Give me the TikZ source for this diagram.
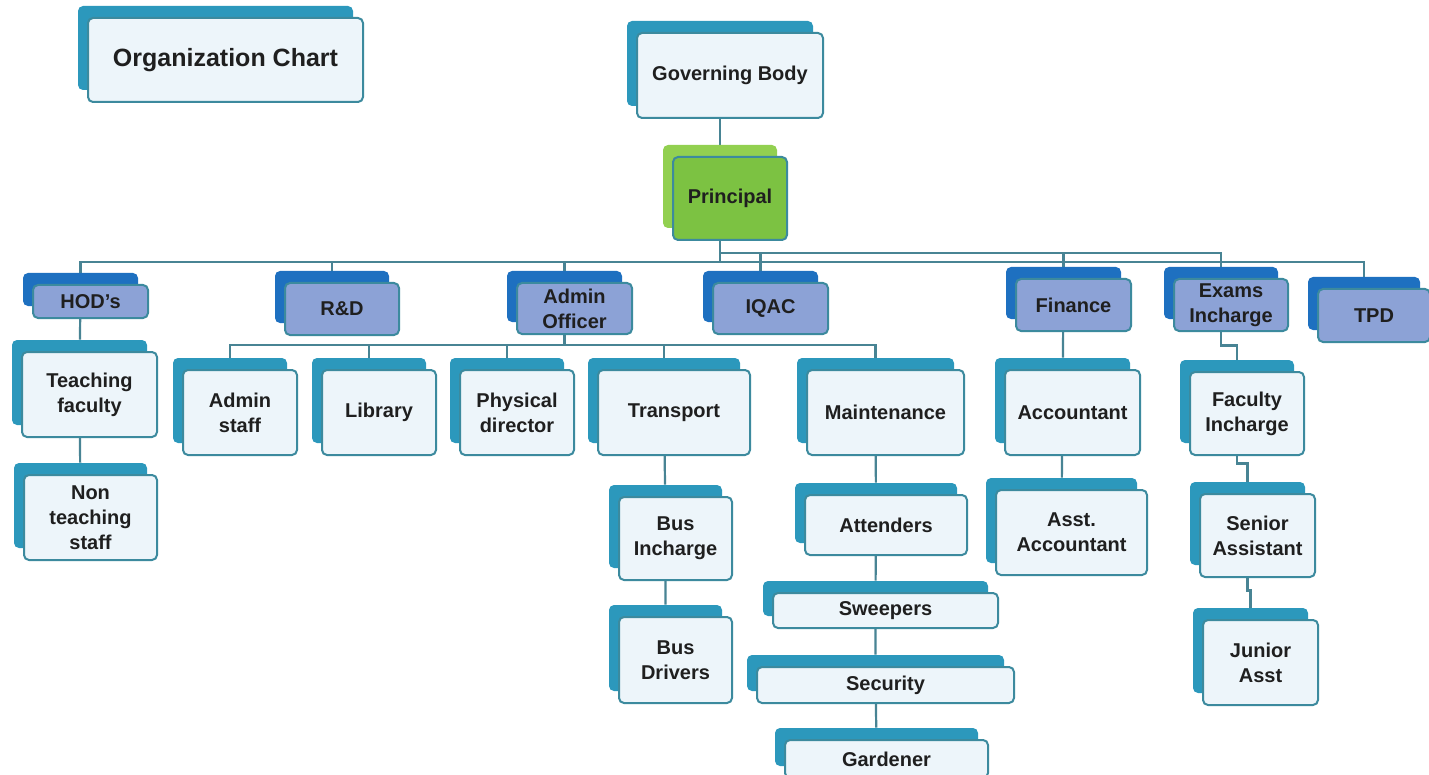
\documentclass[tikz,border=0pt]{standalone}
\usepackage{fontspec}
\setmainfont{Liberation Sans}
\usetikzlibrary{positioning,backgrounds}

\definecolor{backteal}{RGB}{44,152,188}
\definecolor{frontfill}{RGB}{237,245,250}
\definecolor{edgeteal}{RGB}{60,138,158}
\definecolor{deptback}{RGB}{30,112,192}
\definecolor{deptfill}{RGB}{140,162,214}
\definecolor{headback}{RGB}{146,208,80}
\definecolor{headfill}{RGB}{124,194,66}
\definecolor{linkcol}{RGB}{72,132,148}

\tikzset{
  box/.style={rectangle,rounded corners=2.5pt,inner sep=0pt,align=center},
  back-plain/.style={box,fill=backteal},
  front-plain/.style={box,draw=edgeteal,line width=1pt,fill=frontfill},
  back-dept/.style={box,fill=deptback},
  front-dept/.style={box,draw=edgeteal,line width=1pt,fill=deptfill},
  back-head/.style={box,fill=headback},
  front-head/.style={box,draw=edgeteal,line width=1pt,fill=headfill},
  link/.style={draw=linkcol,line width=1.1pt}
}

% back box (name-b) sits up and left of the front box (name)
\newcommand{\chartbox}[6][plain]{%
  \node[back-#1,minimum width=#4*0.5pt,minimum height=#5*0.5pt] (#2-b) at ([shift={(-10,-12)}]#3) {};
  \node[front-#1,minimum width=#4*0.5pt,minimum height=#5*0.5pt] (#2) at (#3) {#6};}

\begin{document}
\begin{tikzpicture}[x=0.5pt,y=-0.5pt,font=\bfseries\fontsize{10}{12.5}\selectfont,text=black!88]
  \useasboundingbox (0,0) rectangle (1429,775);
  \begin{pgfonlayer}{background}
    \fill[white] (0,0) rectangle (1429,775);
  \end{pgfonlayer}

  \chartbox{og}{225.5,60}{275}{84}{\fontsize{12.5}{15}\selectfont Organization Chart}
  \chartbox{gb}{730,75.5}{186}{85}{Governing Body}
  \chartbox[head]{pr}{730,198.5}{114}{83}{Principal}

  % departments
  \chartbox[dept]{hod}{90.5,301.5}{115}{33}{HOD's}
  \chartbox[dept]{rd}{342,309}{114}{52}{R\&D}
  \chartbox[dept]{adm}{574.5,308.5}{115}{51}{Admin\\Officer}
  \chartbox[dept]{iq}{770.5,308.5}{115}{51}{IQAC}
  \chartbox[dept]{fin}{1073.5,305}{115}{52}{Finance}
  \chartbox[dept]{ex}{1231,305}{114}{52}{Exams\\Incharge}
  \chartbox[dept]{tpd}{1374,315.5}{112}{53}{TPD}

  % staff
  \chartbox{tf}{89.5,394.5}{135}{85}{Teaching\\faculty}
  \chartbox{nt}{90.5,517.5}{133}{85}{Non\\teaching\\staff}
  \chartbox{as}{240,412.5}{114}{85}{Admin\\staff}
  \chartbox{lib}{379,412.5}{114}{85}{Library}
  \chartbox{pd}{517,412.5}{114}{85}{Physical\\director}
  \chartbox{tr}{674,412.5}{152}{85}{Transport}
  \chartbox{mt}{885.5,412.5}{157}{85}{Maintenance}
  \chartbox{acc}{1072.5,412.5}{135}{85}{Accountant}
  \chartbox{fi}{1247,413.5}{114}{83}{Faculty\\Incharge}
  \chartbox{bi}{675.5,538.5}{113}{83}{Bus\\Incharge}
  \chartbox{bd}{675.5,660}{113}{86}{Bus\\Drivers}
  \chartbox{att}{886,525}{162}{60}{Attenders}
  \chartbox{sw}{885.5,610.5}{225}{35}{Sweepers}
  \chartbox{sec}{885.5,685}{257}{36}{Security}
  \chartbox{gd}{886.5,759}{203}{38}{Gardener}
  \chartbox{aa}{1071.5,532.5}{151}{85}{Asst.\\Accountant}
  \chartbox{sa}{1257.5,535.5}{115}{83}{Senior\\Assistant}
  \chartbox{ja}{1260.5,662.5}{115}{85}{Junior\\Asst}

  \coordinate (busU) at (0,253);
  \coordinate (busL) at (0,262);
  \coordinate (busA) at (0,345);

  \begin{pgfonlayer}{background}
    \draw[link] (gb-b) -- (pr-b);
    \foreach \c in {hod,rd,adm,tpd}
      \draw[link] (pr-b.south) |- (busL -| \c-b) -- (\c-b.north);
    \foreach \c in {iq,fin,ex}
      \draw[link] (pr-b.south) |- (busU -| \c-b) -- (\c-b.north);
    \foreach \c in {as,lib,pd,tr,mt}
      \draw[link] (adm-b.south) |- (busA -| \c-b) -- (\c-b.north);
    \draw[link] (hod-b) -- (tf-b) -- (nt-b);
    \draw[link] (tr-b) -- (bi-b) -- (bd-b);
    \draw[link] (mt-b) -- (att-b) -- (sw-b) -- (sec-b) -- (gd-b);
    \draw[link] (fin-b) -- (acc-b) -- (aa-b);
    \draw[link] (ex-b.south) -- ++(0,26) -| (fi-b.north);
    \draw[link] (fi-b.south) -- ++(0,20) -| (sa-b.north);
    \draw[link] (sa-b.south) -- ++(0,25) -| (ja-b.north);
  \end{pgfonlayer}
\end{tikzpicture}
\end{document}
